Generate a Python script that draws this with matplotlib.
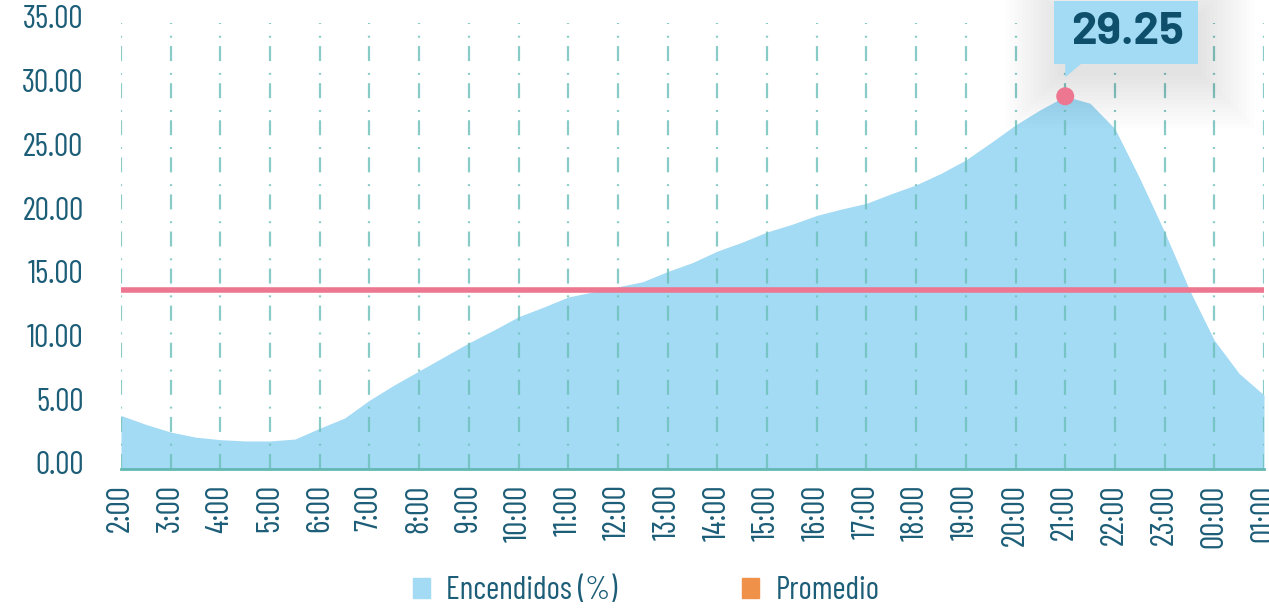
import numpy as np
import matplotlib
matplotlib.use("Agg")
import matplotlib.pyplot as plt
import matplotlib.font_manager as fm
from matplotlib.patches import Patch, Polygon, Rectangle, Circle
from matplotlib.transforms import ScaledTranslation

# hourly tick labels, data every half hour
hours = ["2:00", "3:00", "4:00", "5:00", "6:00", "7:00", "8:00", "9:00", "10:00",
         "11:00", "12:00", "13:00", "14:00", "15:00", "16:00", "17:00", "18:00",
         "19:00", "20:00", "21:00", "22:00", "23:00", "00:00", "01:00"]
encendidos = [4.2, 3.5, 2.9, 2.5, 2.3, 2.2, 2.2, 2.35, 3.2, 4.0, 5.4, 6.6, 7.7, 8.8,
              9.9, 10.9, 11.95, 12.7, 13.5, 13.9, 14.3, 14.7, 15.5, 16.2, 17.1, 17.8,
              18.6, 19.2, 19.9, 20.4, 20.85, 21.6, 22.3, 23.2, 24.25, 25.6, 27.0, 28.2,
              29.25, 28.7, 26.7, 22.8, 18.6, 14.05, 10.1, 7.5, 5.8]
promedio = 14.05
yticks = [0, 5, 10, 15, 20, 25, 30, 35]

FILL = "#a3daf4"
PINK = "#ed7790"
ORANGE = "#f0914a"
TEXT = "#1c5d77"
TEAL = "#62b8b3"

names = {f.name for f in fm.fontManager.ttflist}
STRETCH = "normal"
if "Barlow Condensed" in names:
    FAM = ["Barlow Condensed", "DejaVu Sans"]
elif "Barlow Semi Condensed" in names:
    FAM = ["Barlow Semi Condensed", "DejaVu Sans"]
else:
    FAM = ["DejaVu Sans"]
    STRETCH = "condensed"
BOLDFAM = ["Barlow", "DejaVu Sans"] if "Barlow" in names else ["DejaVu Sans"]

plt.rcParams["font.family"] = FAM
plt.rcParams["font.stretch"] = STRETCH
plt.rcParams["lines.scale_dashes"] = False

fig = plt.figure(figsize=(12.69, 6.09), dpi=100)
ax = fig.add_axes([121 / 1269, 1 - 469 / 609, (1264 - 121) / 1269, (469 - 23) / 609])

x = np.arange(len(encendidos)) * 0.5
ax.fill_between(x, 0, encendidos, color=FILL, lw=0, zorder=1)

for i in range(len(hours)):
    ax.axvline(i, color="#6cbfba", lw=1.6, alpha=0.8, ls=(0, (10.8, 6, 1.4, 8.5)), zorder=2)

ax.axhline(promedio, color=PINK, lw=4, zorder=3, solid_capstyle="butt")

ax.set_xlim(0, len(hours) - 1)
ax.set_ylim(0, 35)
ax.set_xticks(range(len(hours)))
ax.set_xticklabels(hours, rotation=90, fontsize=23, color=TEXT)
ax.set_yticks(yticks)
ax.set_yticklabels(["%.2f" % v for v in yticks], fontsize=23, color=TEXT)
ax.tick_params(axis="both", length=0)
ax.tick_params(axis="y", pad=27)
ax.tick_params(axis="x", pad=11)
for lbl in ax.get_yticklabels():
    lbl.set_transform(lbl.get_transform() + ScaledTranslation(0, 0.06, fig.dpi_scale_trans))

for s in ["left", "right", "top"]:
    ax.spines[s].set_visible(False)
ax.spines["bottom"].set_color(TEAL)
ax.spines["bottom"].set_linewidth(2)
ax.spines["bottom"].set_zorder(4)

# peak callout, offsets in inches from the peak point
ipk = int(np.argmax(encendidos))
pk = ScaledTranslation(x[ipk], encendidos[ipk], ax.transData)
tr = fig.dpi_scale_trans + pk
for k in range(14):
    g = 0.04 * k
    ax.add_patch(Rectangle((-0.11 + 0.04 - g, 0.32 - 0.12 - g), 1.44 + 2 * g, 0.63 + 2 * g,
                           transform=tr, color="#000000", alpha=0.009, lw=0,
                           clip_on=False, zorder=5))
ax.add_patch(Rectangle((-0.11, 0.32), 1.44, 0.63, transform=tr, color=FILL, lw=0,
                       clip_on=False, zorder=6))
ax.add_patch(Polygon([(0, 0.325), (0.16, 0.325), (0, 0.19)], closed=True, transform=tr,
                     color=FILL, lw=0, clip_on=False, zorder=6))
ax.add_patch(Circle((0, 0), 0.09, transform=tr, color=PINK, lw=0, clip_on=False, zorder=7))
ax.text(0.62, 0.635, "%.2f" % encendidos[ipk], transform=tr, ha="center", va="center",
        fontsize=33, fontweight="bold", color="#0e4f6b", family=BOLDFAM,
        fontstretch="normal", zorder=8)

handles = [Patch(color=FILL, label="Encendidos (%)"), Patch(color=ORANGE, label="Promedio")]
leg = fig.legend(handles=handles, loc="center", bbox_to_anchor=(646 / 1269, 1 - 591 / 609),
                 ncol=2, frameon=False, fontsize=23, handlelength=0.55, handleheight=0.6,
                 handletextpad=0.5, columnspacing=3.9)
for t in leg.get_texts():
    t.set_color(TEXT)

fig.savefig("out.png", dpi=100)
